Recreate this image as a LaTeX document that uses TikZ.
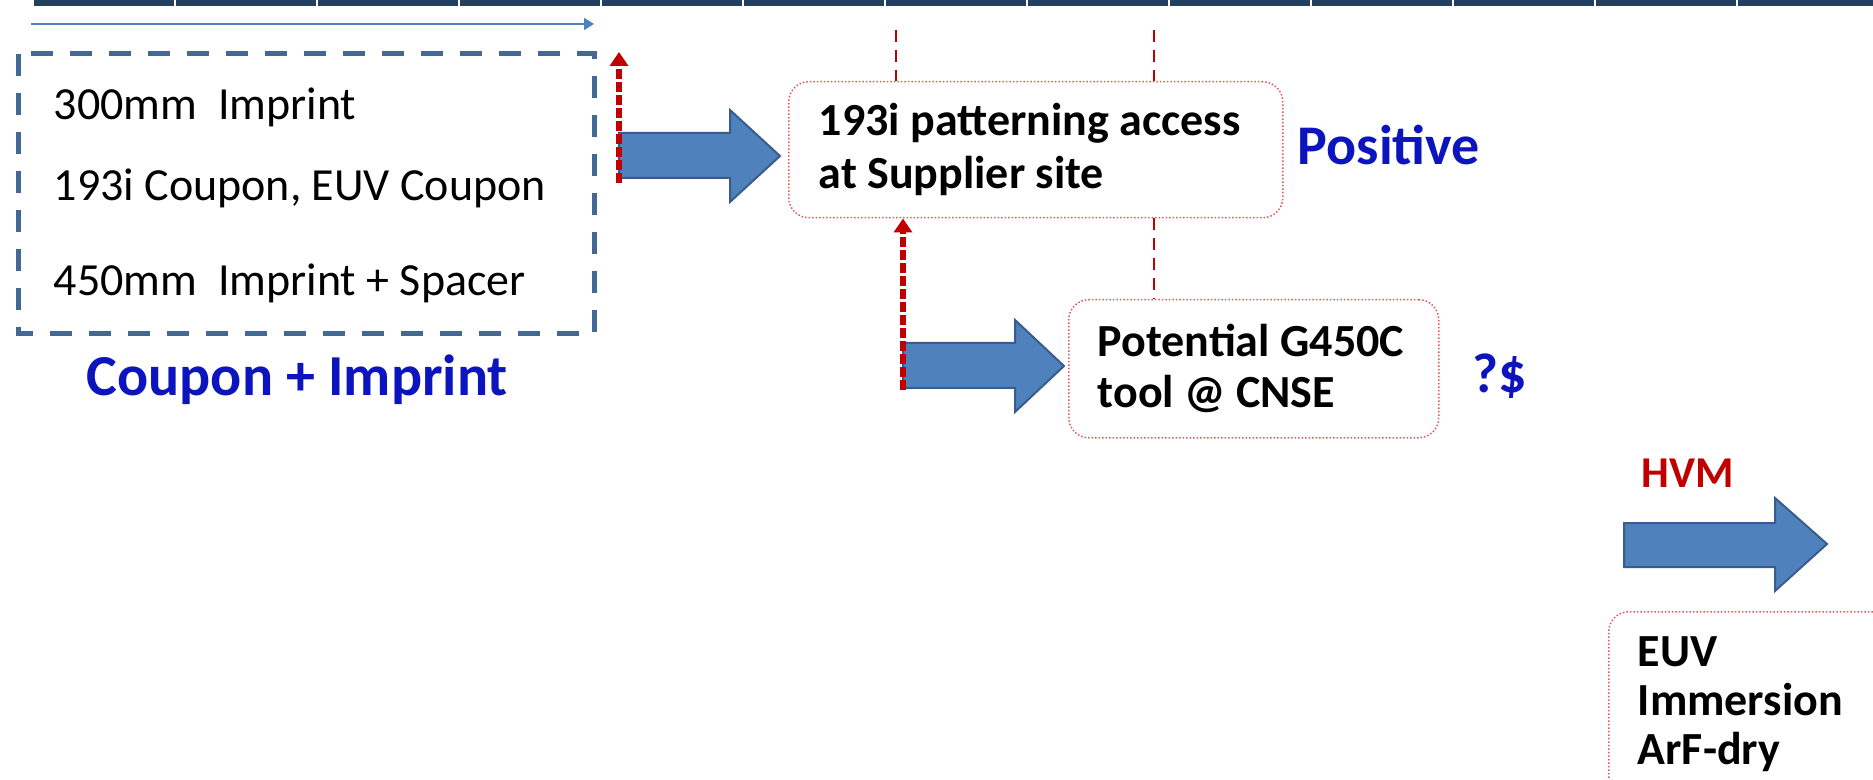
\documentclass[tikz,border=0pt]{standalone}
\usepackage{fontspec}
\setmainfont{Carlito}
\usetikzlibrary{arrows.meta}

\definecolor{barnavy}{RGB}{36,62,96}
\definecolor{arrowblue}{RGB}{79,129,189}
\definecolor{arrowedge}{RGB}{56,93,138}
\definecolor{boxdash}{RGB}{68,104,150}
\definecolor{labelblue}{RGB}{12,20,190}
\definecolor{darkred}{RGB}{192,0,0}
\definecolor{dotred}{RGB}{222,90,90}

\tikzset{every picture/.style={line width=0.75pt}}
\tikzset{
  blockarrow/.style={fill=arrowblue, draw=arrowedge, line width=1pt, line join=miter},
  roundbox/.style={draw=dotred, densely dotted, line width=0.75pt, rounded corners=10pt, align=flush left, anchor=north west, font=\fontsize{23pt}{26.5pt}\selectfont\bfseries},
  risearrow/.style={draw=darkred, line width=2.8pt, dash pattern=on 5pt off 1.5pt, -{Triangle[width=9pt,length=7pt]}},
  guideline/.style={draw=darkred, line width=0.75pt, dash pattern=on 6pt off 4pt},
  plaintext/.style={anchor=base west, inner sep=0pt, font=\fontsize{23pt}{26pt}\selectfont},
  headtext/.style={anchor=base west, inner sep=0pt, font=\fontsize{28pt}{32pt}\selectfont\bfseries, text=labelblue}
}

\begin{document}
\begin{tikzpicture}[x=0.5pt,y=0.5pt,yscale=-1,xscale=1]
\useasboundingbox (0,0) rectangle (1873,780);

%Timeline bar
\foreach \i in {0,...,12}
  \fill[barnavy] ({34+142*\i},0) rectangle ({32+142*(\i+1)},6);

%Thin timeline arrow
\coordinate (tlstart) at (31,24);
\coordinate (tlend) at (594,24);
\draw[arrowblue, line width=1pt, -{Triangle[width=6pt,length=5pt]}] (tlstart) -- (tlend);

%Coupon + Imprint group
\draw[boxdash, line width=2.5pt, dash pattern=on 11pt off 8.5pt] (18,54) rectangle (594,334);
\node (imp300) [plaintext] at (53,120) {300mm\ \ Imprint};
\node (coupon) [plaintext] at (53,201) {193i Coupon, EUV Coupon};
\node (imp450) [plaintext] at (53,296) {450mm\ \ Imprint + Spacer};
\node (cpimp) [headtext, font=\fontsize{29pt}{33pt}\selectfont\bfseries] at (86,396) {Coupon + Imprint};

%Boxes
\node (sup) [roundbox, minimum width=247pt, minimum height=68pt, text width=217pt, inner xsep=15pt] at (788,81) {193i patterning access\\at Supplier site};
\node (g450) [roundbox, minimum width=185pt, minimum height=69pt, text width=156pt, inner xsep=14.5pt, font=\fontsize{23pt}{25.5pt}\selectfont\bfseries] at (1068,299) {Potential G450C\\tool @ CNSE};
\node (hvmbox) [roundbox, minimum width=142pt, minimum height=92pt, text width=113pt, inner xsep=14.5pt, font=\fontsize{23pt}{24.5pt}\selectfont\bfseries] at (1608,611) {EUV\\Immersion\\ArF-dry};

\node (pos) [headtext] at (1297,165) {Positive};
\node (cost) [headtext] at (1472,393) {?\$};
\node (hvm) [headtext, text=darkred, font=\fontsize{22pt}{25pt}\selectfont\bfseries] at (1641,487) {HVM};

%Guide lines
\coordinate (gA) at (896,30);
\coordinate (gB) at (1154,30);
\draw[guideline] (gA) -- (gA |- sup.north);
\draw[guideline] (gB) -- (gB |- sup.north);
\draw[guideline] (sup.south -| gB) -- (g450.north -| gB);

%Block arrows
\draw[blockarrow] (619,133) -- (730,133) -- (730,110) -- (780,156) -- (730,202) -- (730,178) -- (619,178) -- cycle;
\draw[blockarrow] (903,343) -- (1015,343) -- (1015,320) -- (1064,366) -- (1015,412) -- (1015,388) -- (903,388) -- cycle;
\draw[blockarrow] (1624,523) -- (1775,523) -- (1775,498) -- (1827,544) -- (1775,591) -- (1775,567) -- (1624,567) -- cycle;

%Rising arrows
\coordinate (riseA) at (619,183);
\coordinate (riseAtop) at (619,52);
\coordinate (riseB) at (903,390);
\draw[risearrow] (riseA) -- (riseAtop);
\draw[risearrow] (riseB) -- (riseB |- sup.south);

\end{tikzpicture}
\end{document}
